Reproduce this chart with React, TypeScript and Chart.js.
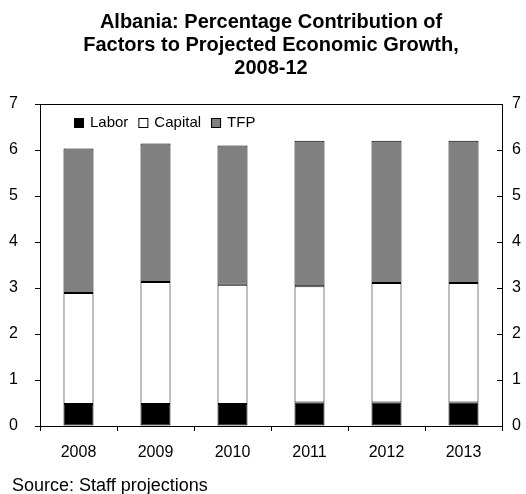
import React, { useEffect, useRef } from "react";
import { Chart, registerables } from "chart.js";

Chart.register(...registerables);

const years = ["2008", "2009", "2010", "2011", "2012", "2013"];
const labor = [0.48, 0.48, 0.48, 0.51, 0.51, 0.51];
const capital = [2.41, 2.65, 2.59, 2.53, 2.6, 2.6];
const tfp = [3.14, 3.01, 3.03, 3.16, 3.09, 3.09];
const seriesNames = ["Labor", "Capital", "TFP"];
const seriesColors = ["#000000", "#ffffff", "#808080"];
const titleLines = [
  "Albania: Percentage Contribution of",
  "Factors to Projected Economic Growth,",
  "2008-12",
];
const sourceText = "Source: Staff projections";

const FONT = "'Liberation Sans', Arial, Helvetica, sans-serif";

const extrasPlugin = {
  id: "extras",
  afterDraw(chart: any) {
    const ctx = chart.ctx;
    const area = chart.chartArea;
    ctx.save();
    // inward ticks on right axis
    const y2 = chart.scales.y2;
    ctx.strokeStyle = "#000";
    ctx.lineWidth = 1;
    y2.ticks.forEach((t: any) => {
      const py = Math.round(y2.getPixelForValue(t.value)) + 0.5;
      ctx.beginPath();
      ctx.moveTo(area.right - 5, py);
      ctx.lineTo(area.right, py);
      ctx.stroke();
    });
    // legend inside plot
    ctx.font = `15px ${FONT}`;
    ctx.textBaseline = "middle";
    ctx.textAlign = "left";
    let x = area.left + 34;
    const cy = area.top + 19;
    chart.data.datasets.forEach((ds: any) => {
      ctx.fillStyle = ds.backgroundColor;
      ctx.fillRect(x, cy - 5, 10, 10);
      ctx.strokeStyle = "#000";
      ctx.strokeRect(x + 0.5, cy - 4.5, 9, 9);
      ctx.fillStyle = "#000";
      ctx.fillText(ds.label, x + 16, cy);
      x += 16 + ctx.measureText(ds.label).width + 10;
    });
    // source note
    ctx.font = `18px ${FONT}`;
    ctx.textBaseline = "alphabetic";
    ctx.fillStyle = "#000";
    ctx.fillText(sourceText, 12, chart.height - 3);
    ctx.restore();
  },
};

export default function App() {
  const ref = useRef<HTMLCanvasElement | null>(null);
  useEffect(() => {
    if (!ref.current) return;
    Chart.defaults.color = "#000";
    const data = [labor, capital, tfp];
    const chart = new Chart(ref.current, {
      type: "bar",
      data: {
        labels: years,
        datasets: seriesNames.map((name, i) => ({
          label: name,
          data: data[i],
          backgroundColor: seriesColors[i],
          borderColor: "#000",
          borderWidth: 1,
          borderSkipped: false,
          categoryPercentage: 1,
          barPercentage: 0.39,
          xAxisID: "x",
          yAxisID: "y",
        })),
      },
      options: {
        animation: false,
        responsive: true,
        maintainAspectRatio: false,
        layout: { padding: { left: 0, right: 0, top: 0, bottom: 28 } },
        plugins: {
          legend: { display: false },
          tooltip: { enabled: false },
          title: {
            display: true,
            text: titleLines,
            fullSize: false,
            color: "#000",
            font: { family: FONT, size: 20, weight: "bold", lineHeight: 1.15 },
            padding: { top: 11, bottom: 24 },
          },
        },
        scales: {
          x: {
            stacked: true,
            position: "bottom",
            afterFit: (s: any) => {
              s.height = 40;
            },
            grid: {
              display: true,
              offset: true,
              drawOnChartArea: false,
              drawTicks: true,
              tickLength: 5,
              color: "#000",
            },
            border: { display: true, color: "#000", width: 1 },
            ticks: { font: { family: FONT, size: 16 }, color: "#000", padding: 12, maxRotation: 0 },
          },
          x2: {
            type: "category",
            labels: years,
            position: "top",
            afterFit: (s: any) => {
              s.height = 0;
            },
            grid: { display: false },
            border: { display: true, color: "#000", width: 1 },
            ticks: { display: false },
          },
          y: {
            stacked: true,
            position: "left",
            min: 0,
            max: 7,
            afterFit: (s: any) => {
              s.width = 40;
            },
            grid: {
              display: true,
              drawOnChartArea: false,
              drawTicks: true,
              tickLength: 5,
              color: "#000",
            },
            border: { display: true, color: "#000", width: 1 },
            ticks: { stepSize: 1, font: { family: FONT, size: 16 }, color: "#000", padding: 17 },
          },
          y2: {
            position: "right",
            min: 0,
            max: 7,
            afterFit: (s: any) => {
              s.width = 24;
            },
            grid: { display: false, drawTicks: false },
            border: { display: true, color: "#000", width: 1 },
            ticks: { stepSize: 1, font: { family: FONT, size: 16 }, color: "#000", padding: 10 },
          },
        },
      },
      plugins: [extrasPlugin],
    });
    return () => chart.destroy();
  }, []);
  return (
    <div style={{ position: "absolute", left: 0, top: 0, width: 526, height: 494 }}>
      <canvas ref={ref} />
    </div>
  );
}
